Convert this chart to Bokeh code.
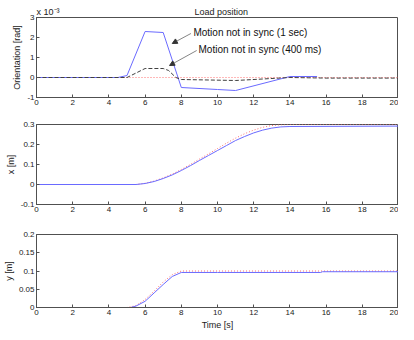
from bokeh.plotting import figure
from bokeh.layouts import column
from bokeh.models import (Range1d, FixedTicker, CustomJSTickFormatter, Label,
                          Arrow, NormalHead)
from bokeh.embed import file_html
from bokeh.resources import INLINE

FONT = "Liberation Sans"

# ---------------- data ----------------
x_ticks = [0, 2, 4, 6, 8, 10, 12, 14, 16, 18, 20]

# Panel 1: orientation (units of 1e-3 rad)
t_sync1s = [0, 4.5, 5.0, 6.0, 7.0, 8.0, 10.0, 11.0, 14.0, 15.5]
o_sync1s = [0, 0, 0.1, 2.3, 2.25, -0.5, -0.6, -0.65, 0.05, 0.05]
t_sync400 = [0, 5.0, 6.0, 7.0, 7.3, 7.7, 8.0, 11.0, 14.0, 16.0, 20.0]
o_sync400 = [0, 0, 0.45, 0.45, 0.35, 0.0, -0.1, -0.15, 0.0, -0.03, -0.03]
t_ref1 = [0, 20]
o_ref1 = [0, 0]
o_ticks = [-1, 0, 1, 2, 3]

# Panel 2: x position [m]
t_x = [0, 5.5, 6, 6.5, 7, 7.5, 8, 8.5, 9, 9.5, 10, 10.5, 11, 11.5, 12, 12.5, 13, 13.5, 14, 20]
x_act = [0, 0, 0.005, 0.015, 0.03, 0.048, 0.07, 0.094, 0.12, 0.145, 0.17, 0.195,
         0.22, 0.24, 0.258, 0.272, 0.282, 0.288, 0.29, 0.292]
x_ref = [0, 0, 0.006, 0.017, 0.033, 0.052, 0.075, 0.1, 0.127, 0.153, 0.18, 0.207,
         0.232, 0.254, 0.272, 0.286, 0.295, 0.299, 0.3, 0.3]
x_yticks = [-0.1, 0, 0.1, 0.2, 0.3]

# Panel 3: y position [m]
t_y = [0, 5.2, 5.5, 6, 6.5, 7, 7.5, 8, 10, 15.7, 15.8, 20]
y_act = [0, 0, 0.004, 0.017, 0.04, 0.063, 0.085, 0.096, 0.096, 0.096, 0.098, 0.098]
t_yref = [0, 5.0, 5.5, 6, 6.5, 7, 7.5, 8, 20]
y_ref = [0, 0, 0.005, 0.022, 0.045, 0.07, 0.09, 0.1, 0.1]
y_yticks = [0, 0.05, 0.1, 0.15, 0.2]

BLUE = "#6a6aff"
RED = "#ff7070"
DASH = "#404040"
AX = "#505050"
TXT = "#222222"

fmt = CustomJSTickFormatter(code="return String(Math.round(tick*1000)/1000);")


def make_fig(yr, yticks, ylabel, h, top, bottom, xlabel=None):
    p = figure(output_backend="svg", toolbar_location=None,
               width=398, height=h,
               x_range=Range1d(0, 20), y_range=Range1d(*yr),
               min_border_left=29, min_border_right=0,
               min_border_top=top, min_border_bottom=bottom)
    p.background_fill_color = "white"
    p.border_fill_color = "white"
    p.outline_line_color = AX
    p.outline_line_width = 1
    p.grid.visible = False
    p.xaxis.ticker = FixedTicker(ticks=x_ticks)
    p.yaxis.ticker = FixedTicker(ticks=yticks)
    p.xaxis.formatter = fmt
    p.yaxis.formatter = fmt
    for ax in (p.xaxis[0], p.yaxis[0]):
        ax.axis_line_color = AX
        ax.major_tick_line_color = AX
        ax.major_tick_in = 3
        ax.major_tick_out = 0
        ax.minor_tick_line_color = None
        ax.major_label_text_font = FONT
        ax.major_label_text_font_size = "8px"
        ax.major_label_text_color = TXT
        ax.major_label_standoff = 2
        ax.axis_label_text_font = FONT
        ax.axis_label_text_font_size = "9px"
        ax.axis_label_text_font_style = "normal"
        ax.axis_label_text_color = TXT
        ax.axis_label_standoff = 2
    p.yaxis.axis_label = ylabel
    if xlabel:
        p.xaxis.axis_label = xlabel
    return p


p1 = make_fig((-1, 3), o_ticks, "Orientation [rad]", 110, 17, 13)
NB = "\u00a0"
p1.title.text = "x 10\u207b\u00b3" + NB * 54 + "Load position"
p1.title.align = "left"
p1.title.text_font = FONT
p1.title.text_font_size = "9px"
p1.title.text_font_style = "normal"
p1.title.text_color = TXT
p1.title.standoff = 1
p1.title.offset = 0

p1.line(t_ref1, o_ref1, line_color=RED, line_dash="1 2", line_width=1)
p1.line(t_sync1s, o_sync1s, line_color=BLUE, line_width=1)
p1.line(t_sync400, o_sync400, line_color=DASH, line_dash="4 2", line_width=1)

p1.add_layout(Label(x=8.67, y=2.25, text="Motion not in sync (1 sec)",
                    text_font=FONT, text_font_size="10px", text_color="#111111",
                    text_baseline="middle", text_align="left"))
p1.add_layout(Label(x=8.95, y=1.4, text="Motion not in sync (400 ms)",
                    text_font=FONT, text_font_size="10px", text_color="#111111",
                    text_baseline="middle", text_align="left"))
p1.add_layout(Arrow(end=NormalHead(size=5, fill_color="#333333", line_color="#333333"),
                    x_start=8.53, y_start=2.2, x_end=7.5, y_end=1.7,
                    line_color="#666666", line_width=0.8))
p1.add_layout(Arrow(end=NormalHead(size=5, fill_color="#333333", line_color="#333333"),
                    x_start=8.85, y_start=1.35, x_end=7.35, y_end=0.6,
                    line_color="#666666", line_width=0.8))

p2 = make_fig((-0.1, 0.3), x_yticks, "x [m]", 108, 14, 14)
p2.line(t_x, x_ref, line_color=RED, line_dash="1 2", line_width=1)
p2.line(t_x, x_act, line_color=BLUE, line_width=1)

p3 = make_fig((0, 0.2), y_yticks, "y [m]", 114, 16, 24, xlabel="Time [s]")
p3.line(t_yref, y_ref, line_color=RED, line_dash="1 2", line_width=1)
p3.line(t_y, y_act, line_color=BLUE, line_width=1)

layout = column(p1, p2, p3, spacing=0)
open("out.html", "w").write(file_html(layout, INLINE))
